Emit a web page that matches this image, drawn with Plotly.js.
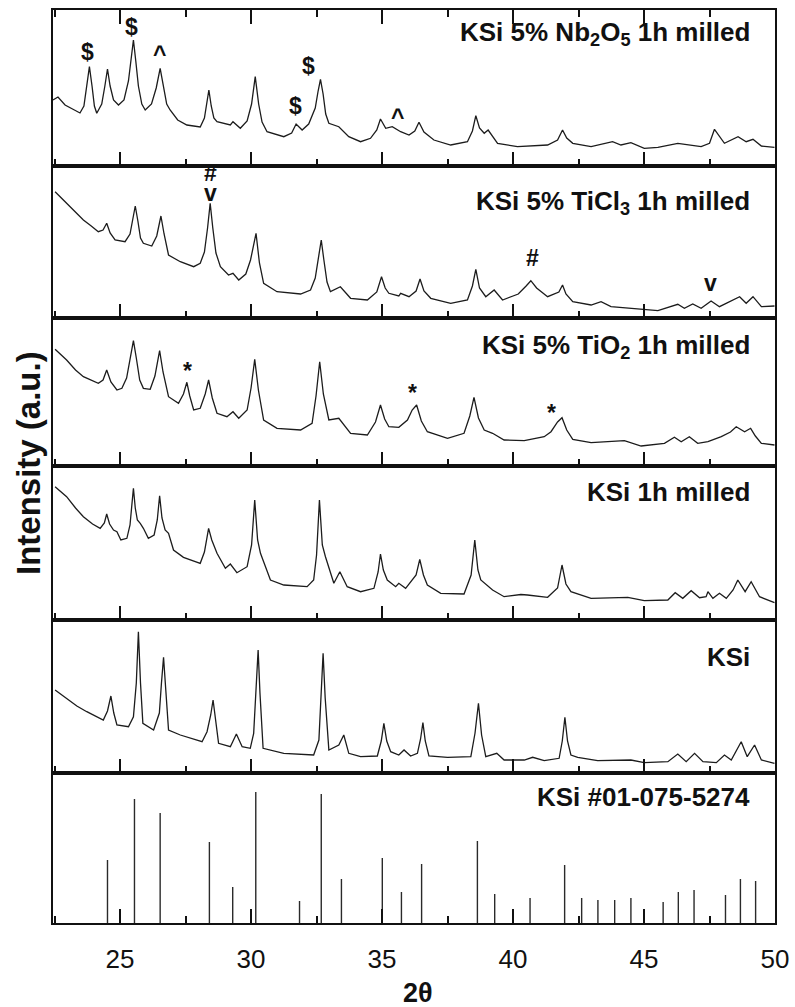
<!DOCTYPE html>
<html>
<head>
<meta charset="utf-8">
<script src="https://cdn.plot.ly/plotly-3.0.1.min.js"></script>
<style>html,body{margin:0;padding:0;background:#fff;}#chart{width:795px;height:1007px;}</style>
</head>
<body>
<div id="chart"></div>
<script>
// ---- Data (2θ in degrees, intensity in arbitrary units per panel) ----
const nbX = [22.44,22.63,22.90,23.20,23.47,23.62,23.73,23.83,23.93,24.02,24.11,24.30,24.42,24.52,24.62,24.75,24.94,25.15,25.32,25.42,25.51,25.60,25.70,25.83,25.96,26.20,26.38,26.53,26.66,26.78,26.91,27.20,27.55,28.06,28.22,28.31,28.39,28.48,28.58,28.70,29.21,29.31,29.59,29.85,30.02,30.16,30.29,30.42,30.61,31.25,31.55,31.72,31.95,32.20,32.45,32.56,32.65,32.75,32.85,32.97,33.35,33.73,34.18,34.56,34.80,34.94,35.14,35.39,35.71,36.03,36.25,36.41,36.60,36.98,37.62,38.26,38.45,38.58,38.72,38.90,39.05,39.41,40.17,41.32,41.70,41.89,42.05,42.28,42.98,43.80,44.12,44.50,45.01,45.53,46.29,47.18,47.50,47.69,47.88,48.07,48.59,48.90,49.16,49.48,49.98];
const nbY = [66,69,61,57,53,60,80,99.3,80,60,52.7,62,80,97,80,66,61,66,85,108,126,105,80,62,56,62,78,97.7,78,62,56,46,41,39,48,62,76,60,48,44.3,41,44.3,37.7,45,62,89.3,62,44,34.3,29.3,33,42,36,42,58,75,86.7,72,52,42.7,39.3,29.3,24.3,27.7,36,47,37.7,39.3,34.3,31,35,43.7,34,26,21,24.3,35,50.3,38,32.7,36,22.7,19.3,21,26,36,28,22.7,19.3,24.3,21,23.3,17.7,18.7,22.7,19.3,22.7,36.7,29.3,22.7,29.3,24.3,26.7,20,18.7];

const ticlX = [22.52,22.96,23.30,23.60,23.90,24.17,24.35,24.49,24.62,24.81,25.19,25.38,25.48,25.58,25.68,25.78,25.89,26.21,26.40,26.56,26.68,26.85,27.30,27.81,28.06,28.22,28.34,28.44,28.54,28.66,28.83,29.14,29.31,29.53,29.80,29.98,30.19,30.32,30.48,30.99,31.89,32.27,32.45,32.58,32.68,32.78,32.90,33.03,33.41,33.80,34.44,34.80,34.98,35.12,35.26,35.64,35.71,36.03,36.30,36.45,36.60,36.86,37.62,38.26,38.45,38.58,38.72,38.96,39.28,39.60,40.20,40.50,40.68,40.90,41.32,41.75,41.89,42.02,42.28,42.98,43.36,43.74,45.01,45.53,46.29,46.54,46.86,47.18,47.56,47.88,48.65,48.90,49.16,49.48,49.98];
const ticlY = [126.3,114.7,105,98,92,86.3,88,94.7,85,78,76.3,84,98,112,97,80,74.7,72,82,102,84,63,56.3,51.3,54.7,66,90,114.7,90,65,51.3,43,44.7,38,44,58,84.7,55,34.7,26.3,24,28,40,62,78,58,36,26.3,31.3,19.7,18,26,41.3,30,24.7,22,24.7,21.3,27,39,27,19.7,14.7,18,32,48.7,30,21.3,28,18,24,32,37.3,30,21.3,26,33,24,16.3,13,16.3,11.3,8,7.3,13.7,9.7,14,9.7,17,11.3,21.3,14.7,21.3,11.3,12];

const tioX = [22.52,22.96,23.30,23.60,24.17,24.35,24.49,24.65,24.88,25.07,25.25,25.40,25.51,25.62,25.75,25.89,26.15,26.33,26.51,26.64,26.85,27.23,27.42,27.55,27.66,27.81,28.06,28.25,28.38,28.52,28.70,29.08,29.31,29.53,29.85,30.00,30.14,30.28,30.48,30.99,31.89,32.33,32.48,32.62,32.76,32.97,33.35,33.80,34.44,34.75,34.94,35.10,35.26,35.64,35.97,36.15,36.32,36.50,36.73,37.50,38.13,38.35,38.51,38.68,38.90,39.22,39.66,40.43,41.19,41.45,41.70,41.87,42.05,42.28,42.98,44.25,44.89,45.78,46.16,46.42,46.73,47.05,47.44,47.95,48.30,48.52,48.84,49.07,49.25,49.48,49.98];
const tioY = [116.7,106,96,89.3,82.7,86,96,84,76,77.7,88,110,125.3,108,86,77.7,76.7,90,115.3,94,69.3,62.7,72,83.7,70,56,57.7,72,86,68,52.7,49.3,54.3,47.7,56,78,106.7,76,46,37.7,36,42.7,70,104.3,72,46,47.7,32.7,31,44,61,47,39.3,38.7,46,56,61,45,34.3,27.7,32.7,50,68.7,48,36,32.7,26,25.3,29.3,34.3,44,48.3,36,26.7,23.3,25.3,20,22.7,28.7,24.3,29.3,22.7,24.3,29.3,34,39.3,34.3,37.7,30,22.7,21];

const millX = [22.52,22.96,23.30,23.60,23.95,24.24,24.40,24.49,24.60,24.75,24.88,25.03,25.26,25.38,25.45,25.51,25.58,25.66,25.77,25.89,26.08,26.30,26.42,26.51,26.60,26.72,26.85,27.04,27.42,27.80,28.06,28.22,28.38,28.50,28.70,29.02,29.21,29.46,29.85,30.02,30.14,30.25,30.36,30.48,30.74,31.25,32.14,32.39,32.50,32.61,32.72,32.84,32.97,33.16,33.39,33.67,34.18,34.69,34.85,34.94,35.05,35.20,35.52,35.64,35.90,36.30,36.44,36.58,36.73,37.24,38.13,38.40,38.54,38.66,38.77,39.22,39.66,40.30,40.55,41.32,41.70,41.87,42.02,42.21,42.98,44.38,45.01,45.91,46.19,46.48,46.80,47.12,47.37,47.44,47.63,47.88,48.14,48.40,48.58,48.86,49.09,49.41,49.98];
const millY = [133.3,123.3,112,103.3,96,91.7,97,106,96,90,88.3,80,81.7,95,115,131.7,112,100,96.7,91.7,81.7,85,100,124.3,102,90,86.7,70,62.7,59,56.7,68,91.7,80,66.7,51.7,56,47.3,53.3,75,120,80,66.7,58.3,40,35,33.3,40,65,120,75,63.3,51.7,36.7,48.3,33.3,28.3,31.7,48,66,50,40,33.3,36.7,31.7,45,60.7,45,35,26.7,26,45,80,50,40,30,23.3,25.5,25,22.7,32,55,36,28.3,21.7,22.7,19.3,20,27.3,21.7,29.3,22.3,23.3,28.3,21.7,26.7,21.7,30,40,28.3,38.3,23.3,17.3];

const ksiX = [22.52,22.96,23.35,23.73,24.10,24.36,24.52,24.65,24.76,24.88,25.32,25.51,25.62,25.70,25.78,25.87,26.28,26.50,26.58,26.66,26.74,26.85,27.30,28.13,28.32,28.46,28.55,28.64,28.76,29.21,29.44,29.66,29.97,30.10,30.20,30.27,30.34,30.46,31.25,32.39,32.59,32.68,32.75,32.83,32.97,33.35,33.54,33.73,34.18,34.82,34.97,35.07,35.18,35.33,35.64,35.84,36.09,36.35,36.47,36.56,36.65,36.79,37.50,38.39,38.55,38.68,38.80,38.96,39.38,39.66,40.43,40.75,41.19,41.76,41.88,41.98,42.08,42.21,42.47,43.23,44.50,45.01,45.91,46.29,46.61,46.93,47.25,47.76,48.07,48.33,48.71,48.94,49.22,49.48,49.98];
const ksiY = [83,74.7,67,61.3,56,53,62,77,60,48,46.3,56.3,90,141.3,90,49.7,43,60,90,115.7,85,43,38,31.3,41.3,58,73,55,29.7,26.3,39,26.3,24.7,39.7,85,123,80,24.7,19.7,18,33,80,119.7,75,23,28,38,19.7,16.3,17,32,49.7,32,21.3,18,23,17,19.7,34,50.3,32,17,15.7,16.3,40,69.7,38,16.3,19.7,13,13,15.7,12.3,14.7,32,55.7,32,18,15.7,12.3,13,10.3,11.3,19,11.3,19.7,11.3,10.3,18,13,31.3,16.3,28,13,9.7];

// Reference pattern KSi #01-075-5274 (stick positions and relative intensities)
const refX = [24.52,25.55,26.53,28.41,29.30,30.18,31.85,32.68,33.45,35.01,35.74,36.51,38.64,39.30,40.65,41.97,42.62,43.24,43.88,44.50,45.73,46.31,46.91,48.11,48.68,49.26];
const refY = [63,124,110,81,36,131,22,129,44,65,31,59,82,29,25,58,25,23,23,25,21,31,33,28,44,42];

const panelLabels = [
  "KSi 5% Nb<sub>2</sub>O<sub>5</sub> 1h milled",
  "KSi 5% TiCl<sub>3</sub> 1h milled",
  "KSi 5% TiO<sub>2</sub> 1h milled",
  "KSi 1h milled",
  "KSi",
  "KSi #01-075-5274"
];

// phase markers: [symbol, 2θ, intensity, panel index]
const markSym = ["$","$","^","$","$","^","#","v","#","v","*","*","*"];
const markX   = [23.75,25.45,26.51,31.69,32.20,35.58,28.47,28.47,40.74,47.54,27.58,36.15,41.48];
const markY   = [114.3,139.3,112.3,60,100,49,145,124.7,59.7,34.7,95,73.3,53.3];
const markP   = [1,1,1,1,1,1,2,2,2,2,3,3,3];

// ---- Layout ----
const FONT = '"Liberation Sans", Arial, sans-serif';
const tops = [10,166,318,466,620,773];
const bots = [166,318,466,620,773,923];
const H = 913;
function dom(i){ return [(923-bots[i])/H, (923-tops[i])/H]; }

const curveLine = {color:'#1c1c1c', width:1.3};
const series = [[nbX,nbY],[ticlX,ticlY],[tioX,tioY],[millX,millY],[ksiX,ksiY]];
const data = series.map((s,i)=>({
  x:s[0], y:s[1], type:'scatter', mode:'lines', line:curveLine,
  xaxis: i===0?'x':'x'+(i+1), yaxis: i===0?'y':'y'+(i+1), hoverinfo:'skip', showlegend:false
}));
// sticks
const sx=[], sy=[];
refX.forEach((x,k)=>{ sx.push(x,x,null); sy.push(0,refY[k],null); });
data.push({x:sx, y:sy, type:'scatter', mode:'lines', line:{color:'#2a2a2a', width:1.4},
  xaxis:'x6', yaxis:'y6', hoverinfo:'skip', showlegend:false});

const layout = {
  width:795, height:1007,
  margin:{l:53, r:20, t:10, b:84},
  paper_bgcolor:'#fff', plot_bgcolor:'#fff',
  font:{family:FONT, color:'#111'},
  showlegend:false,
  annotations:[]
};
for(let i=0;i<6;i++){
  const xk = i===0?'xaxis':'xaxis'+(i+1);
  const yk = i===0?'yaxis':'yaxis'+(i+1);
  const yid = i===0?'y':'y'+(i+1);
  const xid = i===0?'x':'x'+(i+1);
  layout[xk] = {
    anchor:yid, domain:[0,1], range:[22.44,50], dtick:5, tick0:0,
    ticks:'inside', ticklen:14, tickwidth:2, tickcolor:'#111',
    minor:{ticks:'inside', dtick:2.5, tick0:0, ticklen:7, tickwidth:2, tickcolor:'#111'},
    showline:true, linewidth:2, linecolor:'#111', mirror: i===0?'ticks':true,
    showgrid:false, zeroline:false, showticklabels: i===5, ticklabelstandoff:12,
    tickfont:{family:FONT, size:26, color:'#111'}, fixedrange:true
  };
  layout[yk] = {
    anchor:xid, domain:dom(i), range:[0, bots[i]-tops[i]],
    showline:true, linewidth:2, linecolor:'#111', mirror:true,
    ticks:'', showticklabels:false, showgrid:false, zeroline:false, fixedrange:true
  };
  const cy = [33,202,347,492,657,797][i];
  layout.annotations.push({
    xref:'paper', yref:'paper', x:(752-53)/722, y:(923-cy)/H, xanchor:'right', yanchor:'middle',
    text:'<b>'+panelLabels[i]+'</b>', showarrow:false, font:{family:FONT, size:26, color:'#111'}
  });
}
markSym.forEach((s,k)=>{
  const p = markP[k];
  layout.annotations.push({
    xref: p===1?'x':'x'+p, yref: p===1?'y':'y'+p, x:markX[k], y:markY[k],
    xanchor:'center', yanchor:'middle', text:'<b>'+s+'</b>', showarrow:false,
    font:{family:FONT, size:23, color:'#111'}
  });
});
// axis titles
layout.annotations.push({xref:'paper', yref:'paper', x:(418-53)/722, y:(923-993)/H,
  xanchor:'center', yanchor:'middle', text:'<b>2θ</b>', showarrow:false, font:{family:FONT, size:27, color:'#111'}});
layout.annotations.push({xref:'paper', yref:'paper', x:(28-53)/722, y:(923-463)/H,
  xanchor:'center', yanchor:'middle', textangle:-90, text:'<b>Intensity (a.u.)</b>', showarrow:false,
  font:{family:FONT, size:33, color:'#111'}});

Plotly.newPlot('chart', data, layout, {staticPlot:true, displayModeBar:false});
</script>
</body>
</html>
